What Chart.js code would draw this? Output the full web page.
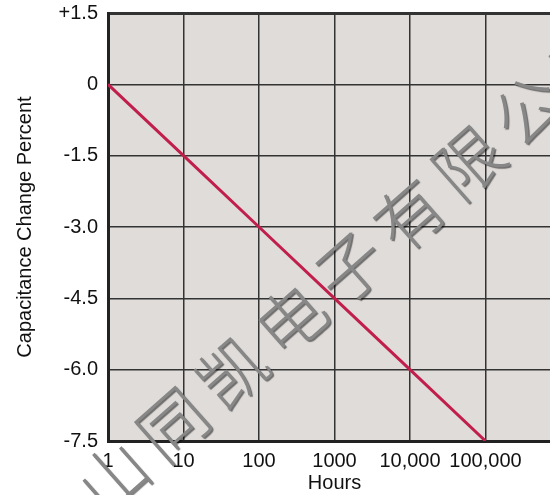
<!DOCTYPE html>
<html>
<head>
<meta charset="utf-8">
<script src="https://cdn.jsdelivr.net/npm/chart.js@4"></script>
<style>
  html, body { margin: 0; padding: 0; background: #fff; overflow: hidden; }
  #wrap { position: absolute; left: 0; top: 0; width: 562px; height: 495px; }
</style>
</head>
<body>
<div id="wrap"><canvas id="chart"></canvas></div>
<script>
'use strict';
// data
const hours = [1, 10, 100, 1000, 10000, 100000];
const capChange = [0, -1.5, -3.0, -4.5, -6.0, -7.5];

const xTicks = [1, 10, 100, 1000, 10000, 100000, 1000000];
const xTickLabels = ['1', '10', '100', '1000', '10,000', '100,000', ''];
const yTicks = [1.5, 0, -1.5, -3.0, -4.5, -6.0, -7.5];
const yTickLabels = ['+1.5', '0', '-1.5', '-3.0', '-4.5', '-6.0', '-7.5'];

const watermark = '山同凯电子有限公司';

const FONT = '"Liberation Sans", Arial, Helvetica, sans-serif';

// plot area background
const bgPlugin = {
  id: 'plotBg',
  beforeDraw(chart) {
    const { ctx, chartArea: a } = chart;
    ctx.save();
    ctx.fillStyle = '#e0dcda';
    ctx.fillRect(a.left, a.top, a.right - a.left, a.bottom - a.top);
    ctx.restore();
  }
};

// diagonal watermark text
const markPlugin = {
  id: 'watermark',
  beforeDatasetsDraw(chart) {
    const ctx = chart.ctx;
    const ang = 41.5 * Math.PI / 180;
    const step = 79;
    const cx = 350, cy = 267; // centre of the 5th character
    ctx.save();
    ctx.font = '300 68px "Noto Sans CJK SC"';
    ctx.textAlign = 'center';
    ctx.textBaseline = 'middle';
    ctx.fillStyle = '#878787';
    ctx.shadowColor = 'rgba(0,0,0,0.5)';
    ctx.shadowOffsetX = 1.5;
    ctx.shadowOffsetY = 1.5;
    ctx.shadowBlur = 1;
    [...watermark].forEach((ch, i) => {
      const d = (i - 4) * step;
      ctx.save();
      ctx.translate(cx + d * Math.cos(ang), cy - d * Math.sin(ang));
      ctx.rotate(-ang);
      ctx.fillText(ch, 0, 0);
      ctx.restore();
    });
    ctx.restore();
  }
};

const data = {
  labels: hours,
  datasets: [{
    label: 'Capacitance Change',
    data: hours.map((h, i) => ({ x: h, y: capChange[i] })),
    borderColor: '#c11f4b',
    borderWidth: 3,
    pointRadius: 0,
    tension: 0
  }]
};

const config = {
  type: 'line',
  data: data,
  options: {
    responsive: true,
    maintainAspectRatio: false,
    animation: false,
    layout: { padding: { top: 13, right: 1, left: 0, bottom: 0 } },
    plugins: {
      legend: { display: false },
      tooltip: { enabled: false }
    },
    scales: {
      x: {
        type: 'logarithmic',
        min: 1,
        max: 1000000,
        afterBuildTicks: scale => { scale.ticks = xTicks.map(v => ({ value: v })); },
        afterFit: scale => {
          scale.height = 54;
          scale.paddingLeft = 0;
          scale.paddingRight = 0;
        },
        ticks: {
          autoSkip: false,
          maxRotation: 0,
          padding: 8,
          color: '#111',
          font: { family: FONT, size: 20 },
          callback: (v, i) => xTickLabels[i]
        },
        grid: { color: '#333', lineWidth: 1.5, drawTicks: false },
        border: { color: '#222', width: 3 },
        title: {
          display: true,
          text: 'Hours',
          color: '#111',
          font: { family: FONT, size: 20 },
          padding: { top: 0, bottom: 0 }
        }
      },
      y: {
        min: -7.5,
        max: 1.5,
        afterBuildTicks: scale => { scale.ticks = yTicks.map(v => ({ value: v })); },
        afterFit: scale => {
          scale.width = 108;
          scale.paddingTop = 0;
          scale.paddingBottom = 0;
        },
        ticks: {
          padding: 10,
          color: '#111',
          font: { family: FONT, size: 20 },
          callback: (v, i) => yTickLabels[i]
        },
        grid: {
          color: '#333',
          lineWidth: ctx => (ctx.tick && ctx.tick.value === 1.5 ? 3 : 1.5),
          drawTicks: false
        },
        border: { color: '#222', width: 3 },
        title: {
          display: true,
          text: 'Capacitance Change Percent',
          color: '#111',
          font: { family: FONT, size: 20 },
          padding: { top: 13, bottom: 0 }
        }
      }
    }
  },
  plugins: [bgPlugin, markPlugin]
};

const canvasElem = document.getElementById('chart');
const myChart = new Chart(canvasElem, config);
</script>
</body>
</html>
